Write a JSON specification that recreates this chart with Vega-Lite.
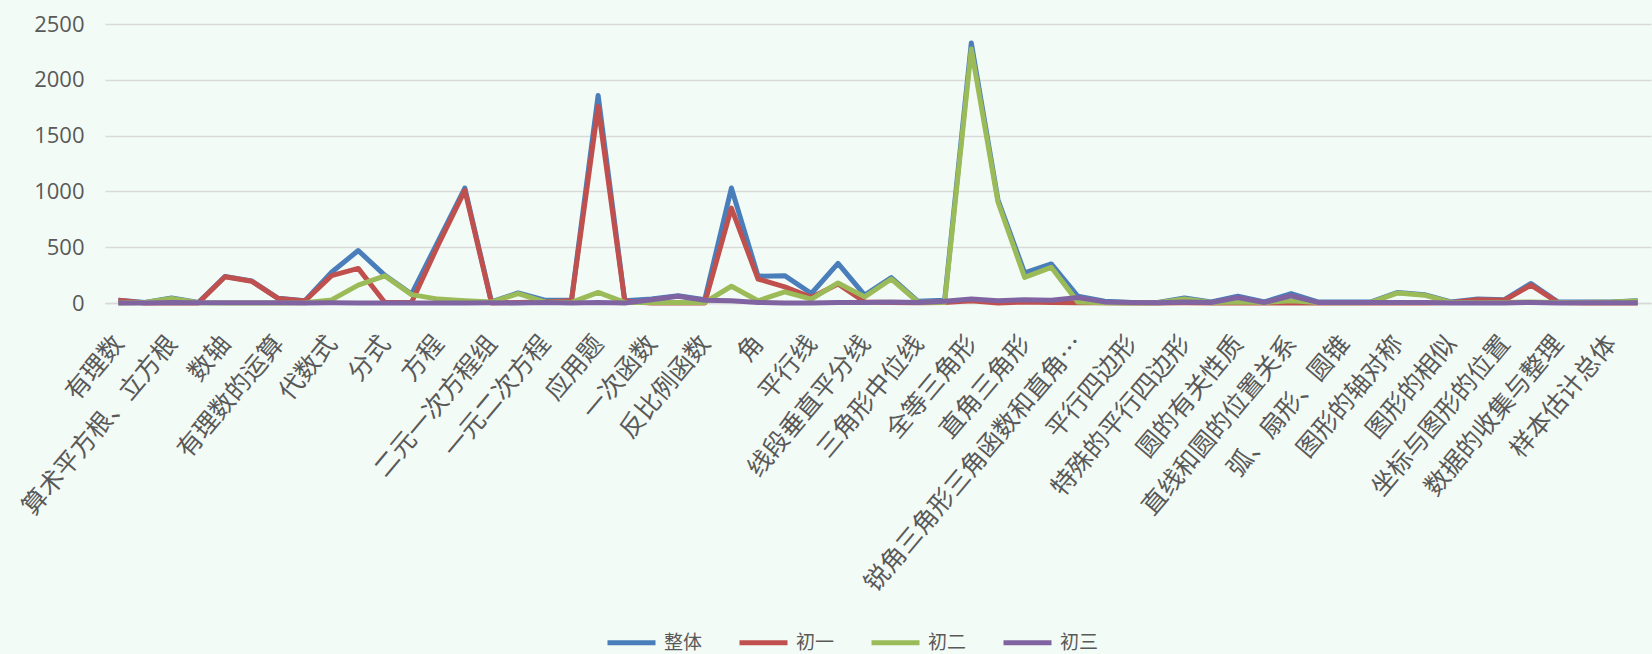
{
  "$schema": "https://vega.github.io/schema/vega-lite/v6.json",
  "width": 1546,
  "height": 279,
  "autosize": {"type": "none"},
  "padding": {"left": 105, "top": 24, "right": 1, "bottom": 351},
  "background": "#f3fbf6",
  "data": {"values": [
    {"知识点": "有理数", "整体": 25, "初一": 25, "初二": 0, "初三": 0},
    {"知识点": "实数", "整体": 5, "初一": 0, "初二": 5, "初三": 0},
    {"知识点": "算术平方根、立方根", "整体": 45, "初一": 0, "初二": 40, "初三": 5},
    {"知识点": "相反数与绝对值", "整体": 5, "初一": 0, "初二": 3, "初三": 2},
    {"知识点": "数轴", "整体": 237, "初一": 235, "初二": 0, "初三": 2},
    {"知识点": "科学记数法", "整体": 198, "初一": 195, "初二": 0, "初三": 3},
    {"知识点": "有理数的运算", "整体": 42, "初一": 40, "初二": 0, "初三": 2},
    {"知识点": "整式", "整体": 20, "初一": 18, "初二": 2, "初三": 0},
    {"知识点": "代数式", "整体": 275, "初一": 245, "初二": 28, "初三": 2},
    {"知识点": "整式的运算", "整体": 470, "初一": 310, "初二": 160, "初三": 0},
    {"知识点": "分式", "整体": 248, "初一": 5, "初二": 243, "初三": 0},
    {"知识点": "因式分解", "整体": 80, "初一": 5, "初二": 75, "初三": 0},
    {"知识点": "方程", "整体": 555, "初一": 520, "初二": 35, "初三": 0},
    {"知识点": "一元一次方程", "整体": 1030, "初一": 1010, "初二": 20, "初三": 0},
    {"知识点": "二元一次方程组", "整体": 10, "初一": 0, "初二": 8, "初三": 2},
    {"知识点": "不等式与不等式组", "整体": 90, "初一": 5, "初二": 85, "初三": 0},
    {"知识点": "一元二次方程", "整体": 25, "初一": 10, "初二": 10, "初三": 5},
    {"知识点": "分式方程", "整体": 25, "初一": 20, "初二": 5, "初三": 0},
    {"知识点": "应用题", "整体": 1860, "初一": 1760, "初二": 95, "初三": 5},
    {"知识点": "平面直角坐标系", "整体": 20, "初一": 15, "初二": 5, "初三": 0},
    {"知识点": "一次函数", "整体": 35, "初一": 0, "初二": 5, "初三": 30},
    {"知识点": "函数", "整体": 65, "初一": 0, "初二": 5, "初三": 60},
    {"知识点": "反比例函数", "整体": 30, "初一": 0, "初二": 5, "初三": 25},
    {"知识点": "二次函数", "整体": 1030, "初一": 850, "初二": 150, "初三": 20},
    {"知识点": "角", "整体": 240, "初一": 215, "初二": 20, "初三": 5},
    {"知识点": "相交线", "整体": 245, "初一": 145, "初二": 100, "初三": 0},
    {"知识点": "平行线", "整体": 85, "初一": 50, "初二": 35, "初三": 0},
    {"知识点": "三角形", "整体": 355, "初一": 170, "初二": 180, "初三": 5},
    {"知识点": "线段垂直平分线", "整体": 70, "初一": 10, "初二": 55, "初三": 5},
    {"知识点": "角平分线", "整体": 228, "初一": 5, "初二": 215, "初三": 8},
    {"知识点": "三角形中位线", "整体": 15, "初一": 2, "初二": 8, "初三": 5},
    {"知识点": "等腰三角形", "整体": 25, "初一": 5, "初二": 5, "初三": 15},
    {"知识点": "全等三角形", "整体": 2330, "初一": 20, "初二": 2275, "初三": 35},
    {"知识点": "勾股定理", "整体": 925, "初一": 0, "初二": 905, "初三": 20},
    {"知识点": "直角三角形", "整体": 270, "初一": 10, "初二": 230, "初三": 30},
    {"知识点": "多边形", "整体": 350, "初一": 5, "初二": 320, "初三": 25},
    {"知识点": "锐角三角形三角函数和直角三角形", "整体": 60, "初一": 2, "初二": 8, "初三": 50},
    {"知识点": "解直角三角形", "整体": 15, "初一": 2, "初二": 3, "初三": 10},
    {"知识点": "平行四边形", "整体": 5, "初一": 0, "初二": 0, "初三": 5},
    {"知识点": "梯形", "整体": 5, "初一": 0, "初二": 2, "初三": 3},
    {"知识点": "特殊的平行四边形", "整体": 45, "初一": 2, "初二": 35, "初三": 8},
    {"知识点": "圆", "整体": 10, "初一": 0, "初二": 5, "初三": 5},
    {"知识点": "圆的有关性质", "整体": 60, "初一": 0, "初二": 10, "初三": 50},
    {"知识点": "点和圆的位置关系", "整体": 10, "初一": 0, "初二": 5, "初三": 5},
    {"知识点": "直线和圆的位置关系", "整体": 85, "初一": 0, "初二": 20, "初三": 65},
    {"知识点": "正多边形和圆", "整体": 10, "初一": 0, "初二": 5, "初三": 5},
    {"知识点": "弧、扇形、圆锥", "整体": 8, "初一": 0, "初二": 3, "初三": 5},
    {"知识点": "平移与旋转", "整体": 10, "初一": 0, "初二": 5, "初三": 5},
    {"知识点": "图形的轴对称", "整体": 95, "初一": 0, "初二": 90, "初三": 5},
    {"知识点": "图形的中心对称", "整体": 75, "初一": 0, "初二": 70, "初三": 5},
    {"知识点": "图形的相似", "整体": 10, "初一": 5, "初二": 5, "初三": 0},
    {"知识点": "投影与视图", "整体": 35, "初一": 30, "初二": 5, "初三": 0},
    {"知识点": "坐标与图形的位置", "整体": 30, "初一": 25, "初二": 5, "初三": 0},
    {"知识点": "概率", "整体": 175, "初一": 160, "初二": 10, "初三": 5},
    {"知识点": "数据的收集与整理", "整体": 10, "初一": 5, "初二": 5, "初三": 0},
    {"知识点": "数据的分析", "整体": 8, "初一": 0, "初二": 5, "初三": 3},
    {"知识点": "样本估计总体", "整体": 10, "初一": 0, "初二": 8, "初三": 2},
    {"知识点": "统计图", "整体": 20, "初一": 0, "初二": 18, "初三": 2}
  ]},
  "transform": [{"fold": ["整体", "初一", "初二", "初三"], "as": ["年级", "数量"]}],
  "mark": {"type": "line", "strokeWidth": 5, "strokeJoin": "round"},
  "encoding": {
    "x": {
      "field": "知识点", "type": "nominal", "sort": null,
      "scale": {"type": "point", "padding": 0.5},
      "axis": {
        "title": null, "labelAngle": -50, "labelAlign": "right", "labelBaseline": "top",
        "labelFont": "Noto Sans CJK SC", "labelFontSize": 25, "labelColor": "#595959",
        "labelPadding": 28, "labelOffset": -9, "labelLimit": 328, "labelOverlap": false,
        "labelExpr": "indexof(domain('x'), datum.value) % 2 == 0 ? datum.label : ''",
        "ticks": false, "domainColor": "#d9d9d9", "domainWidth": 1.5, "grid": false
      }
    },
    "y": {
      "field": "数量", "type": "quantitative",
      "scale": {"domain": [0, 2500], "nice": false},
      "axis": {
        "title": null, "values": [0, 500, 1000, 1500, 2000, 2500], "format": "d",
        "labelFont": "Open Sans", "labelFontSize": 22, "labelColor": "#595959",
        "labelPadding": 21, "ticks": false, "domain": false,
        "grid": true, "gridColor": "#d9d9d9", "gridWidth": 1.5
      }
    },
    "color": {
      "field": "年级", "type": "nominal",
      "scale": {"domain": ["整体", "初一", "初二", "初三"], "range": ["#4a7ebb", "#c0504d", "#9bbb59", "#8064a2"]},
      "legend": {
        "title": null, "orient": "none", "legendX": 500, "legendY": 592, "direction": "horizontal",
        "symbolType": "stroke", "symbolSize": 2304, "symbolStrokeWidth": 5,
        "labelFont": "Noto Sans CJK SC", "labelFontSize": 19, "labelColor": "#595959",
        "labelOffset": 6, "columnPadding": 26, "padding": 0
      }
    }
  },
  "config": {"view": {"stroke": null}}
}
